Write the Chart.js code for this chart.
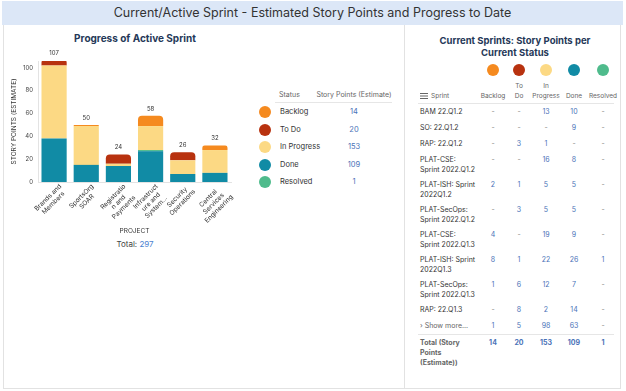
<!DOCTYPE html>
<html>
<head>
<meta charset="utf-8">
<script src="https://cdn.jsdelivr.net/npm/chart.js@4.4.1/dist/chart.umd.min.js"></script>
<style>
  body { margin: 0; width: 626px; height: 391px; background: #fff; font-family: Inter, "Noto Sans", sans-serif; color: #333; position: relative; overflow: hidden; }
  .abs { position: absolute; }
  #banner { left: 2px; top: 1px; width: 621px; height: 24px; background: #dce7f7; font-size: 12.5px; line-height: 24px; text-align: center; color: #333; }
  #leftPanel { left: 3px; top: 25px; width: 400px; height: 363px; border-left: 1px solid #e2e2e2; border-bottom: 1px solid #e2e2e2; border-right: 1px solid #e2e2e2; }
  #rightPanel { left: 404px; top: 25px; width: 216px; height: 363px; border-right: 1px solid #e2e2e2; border-bottom: 1px solid #e2e2e2; }
  .title { font-weight: 700; font-size: 9.5px; color: #253858; text-align: center; }
  .dot { border-radius: 50%; width: 12px; height: 12px; }
  .small { font-size: 7px; line-height: 10px; }
  .val { color: #4a72b8; text-align: center; }
  .dash { color: #888; }
</style>
</head>
<body>
<div id="banner" class="abs">Current/Active Sprint - Estimated Story Points and Progress to Date</div>
<div id="leftPanel" class="abs"></div>
<div id="rightPanel" class="abs"></div>
<div class="abs title" style="left:35px;top:32px;width:200px;font-size:10px;">Progress of Active Sprint</div>
<div class="abs" style="left:0px;top:50px;width:236px;height:185px;"><canvas id="chart"></canvas></div>
<div id="total" class="abs" style="left:35px;top:239px;width:200px;text-align:center;font-size:8px;color:#444;"></div>
<div class="abs title" style="left:412px;top:35px;width:206px;line-height:12px;">Current Sprints: Story Points per<br>Current Status</div>
<script>
// colours per status
var cBacklog = '#f58a1f';
var cTodo = '#b8320f';
var cProgress = '#fcd984';
var cDone = '#118ba5';
var cResolved = '#4fbb8c';

// bar chart data (per project)
var projects = [['Brands and', 'Members'], ['SportsOrg', 'SOAR'], ['Registratio', 'n and', 'Payments'],
  ['Infrastruct', 'ure and', 'System...'], ['Security', 'Operations'], ['Central', 'Services', 'Engineering']];
var done = [38, 15, 14, 27, 7, 8];
var resolved = [0, 0, 0, 1, 0, 0];
var inProgress = [64, 34, 2, 21, 12, 20];
var toDo = [5, 0, 8, 0, 7, 0];
var backlog = [0, 1, 0, 9, 0, 4];

// status summary
var statuses = ['Backlog', 'To Do', 'In Progress', 'Done', 'Resolved'];
var statusColors = [cBacklog, cTodo, cProgress, cDone, cResolved];
var statusTotals = [14, 20, 153, 109, 1];

// sprint table
var sprints = ['BAM 22.Q1.2', 'SO: 22.Q1.2', 'RAP: 22.Q1.2', 'PLAT-CSE:\nSprint 2022.Q1.2', 'PLAT-ISH: Sprint\n2022Q1.2',
  'PLAT-SecOps:\nSprint 2022.Q1.2', 'PLAT-CSE:\nSprint 2022.Q1.3', 'PLAT-ISH: Sprint\n2022Q1.3', 'PLAT-SecOps:\nSprint 2022.Q1.3',
  'RAP: 22.Q1.3', '› Show more...'];
var sBacklog = [null, null, null, null, 2, null, 4, 8, 1, null, 1];
var sTodo = [null, null, 3, null, 1, 3, null, 1, 6, 8, 5];
var sProgress = [13, null, 1, 16, 5, 5, 19, 22, 12, 2, 98];
var sDone = [10, 9, null, 8, 5, 5, 9, 26, 7, 14, 63];
var sResolved = [null, null, null, null, null, null, null, 1, null, null, null];

function el(html, style, cls) {
  var d = document.createElement('div');
  d.className = 'abs ' + (cls || '');
  d.style.cssText = style;
  d.innerHTML = html;
  document.body.appendChild(d);
  return d;
}

// total under chart
var grand = 0;
[done, resolved, inProgress, toDo, backlog].forEach(function (a) { a.forEach(function (v) { grand += v; }); });
document.getElementById('total').innerHTML = 'Total: <span style="color:#4a7fd0">' + grand + '</span>';

// middle legend table
el('Status', 'left:279px;top:90px;color:#666;', 'small');
el('Story Points (Estimate)', 'left:314px;top:90px;width:80px;text-align:center;color:#666;', 'small');
el('', 'left:275px;top:102px;width:117px;height:0;border-top:1px solid #e6e6e6;');
statuses.forEach(function (s, i) {
  var y = 112 + i * 17.5;
  el('', 'left:259px;top:' + (y - 6) + 'px;background:' + statusColors[i] + ';', 'dot');
  el(s, 'left:280px;top:' + (y - 5) + 'px;color:#333;font-size:7.5px;line-height:10px;');
  el(statusTotals[i], 'left:334px;top:' + (y - 5) + 'px;width:40px;font-size:7.5px;line-height:10px;', 'val');
});

// right table
var colX = [493, 519, 546, 574, 603];
statusColors.forEach(function (c, i) {
  el('', 'left:' + (colX[i] - 6) + 'px;top:64px;background:' + c + ';', 'dot');
});
var heads = ['Backlog', 'To<br>Do', 'In<br>Progress', 'Done', 'Resolved'];
heads.forEach(function (h, i) {
  var lines = h.indexOf('<br>') >= 0 ? 2 : 1;
  el(h, 'left:' + (colX[i] - 20) + 'px;top:' + (101 - lines * 10) + 'px;width:40px;text-align:center;color:#666;font-size:6.5px;', 'small');
});
el('', 'left:420px;top:93px;width:8px;height:1px;background:#666;box-shadow:0 2.5px 0 #666,0 5px 0 #666;');
el('Sprint', 'left:431px;top:91px;color:#666;font-size:6.5px;', 'small');
el('', 'left:418px;top:103px;width:196px;height:0;border-top:1px solid #e6e6e6;');
var y = 107;
var cols = [sBacklog, sTodo, sProgress, sDone, sResolved];
sprints.forEach(function (s, r) {
  var lines = s.split('\n').length;
  el(s.replace('\n', '<br>'), 'left:420px;top:' + y + 'px;color:' + (r === sprints.length - 1 ? '#666' : '#333') + ';', 'small');
  cols.forEach(function (col, c) {
    var v = col[r];
    el(v === null ? '-' : v, 'left:' + (colX[c] - 15) + 'px;top:' + y + 'px;width:30px;', 'small ' + (v === null ? 'val dash' : 'val'));
  });
  y += lines === 2 ? 25 : 16;
});
el('', 'left:418px;top:' + (y - 3) + 'px;width:196px;height:0;border-top:1px solid #e6e6e6;');
el('Total (Story<br>Points<br>(Estimate))', 'left:420px;top:' + (y + 1) + 'px;color:#666;font-weight:700;', 'small');
statusTotals.forEach(function (v, c) {
  el(v, 'left:' + (colX[c] - 15) + 'px;top:' + (y + 1) + 'px;width:30px;font-weight:700;', 'small val');
});

// bar chart
var series = [
  { label: 'Done', data: done, color: cDone },
  { label: 'Resolved', data: resolved, color: cResolved },
  { label: 'In Progress', data: inProgress, color: cProgress },
  { label: 'To Do', data: toDo, color: cTodo },
  { label: 'Backlog', data: backlog, color: cBacklog }
];

function isTop(ds, i) {
  for (var k = ds + 1; k < series.length; k++) {
    if (series[k].data[i] > 0) return false;
  }
  return true;
}

// totals above bars + rotated, centred multi-line category labels
var labelsPlugin = {
  id: 'labels',
  afterDatasetsDraw: function (chart) {
    var ctx = chart.ctx;
    var meta = chart.getDatasetMeta(series.length - 1);
    var xs = chart.scales.x;
    ctx.save();
    ctx.font = '6px Inter, sans-serif';
    ctx.fillStyle = '#333';
    ctx.textAlign = 'center';
    ctx.textBaseline = 'middle';
    projects.forEach(function (p, i) {
      var sum = 0;
      series.forEach(function (s) { sum += s.data[i]; });
      ctx.fillText(sum, meta.data[i].x, meta.data[i].y - 7);
    });
    ctx.font = '6.5px Inter, sans-serif';
    projects.forEach(function (lines, i) {
      var w = 0;
      lines.forEach(function (l) { w = Math.max(w, ctx.measureText(l).width); });
      ctx.save();
      ctx.translate(xs.getPixelForTick(i) + 4, xs.top + 1);
      ctx.rotate(-Math.PI / 4);
      ctx.textBaseline = 'top';
      lines.forEach(function (l, k) {
        ctx.fillText(l, -w / 2, k * 7.5);
      });
      ctx.restore();
    });
    ctx.restore();
  }
};

new Chart(document.getElementById('chart'), {
  type: 'bar',
  data: {
    labels: projects,
    datasets: series.map(function (s, d) {
      return {
        label: s.label,
        data: s.data,
        backgroundColor: s.color,
        borderWidth: 0,
        borderSkipped: false,
        borderRadius: function (c) {
          return isTop(d, c.dataIndex) ? { topLeft: 4, topRight: 4, bottomLeft: 0, bottomRight: 0 } : 0;
        },
        barPercentage: 0.9,
        categoryPercentage: 0.87
      };
    })
  },
  options: {
    responsive: true,
    maintainAspectRatio: false,
    animation: false,
    layout: { padding: { top: 11, right: 5, left: 0, bottom: 0 } },
    plugins: { legend: { display: false }, tooltip: { enabled: false } },
    scales: {
      x: {
        stacked: true,
        grid: { display: false },
        border: { color: '#e3e3e3' },
        ticks: { display: false },
        title: { display: true, text: 'PROJECT', color: '#333', font: { size: 6.5, family: 'Inter' }, padding: 0 },
        afterFit: function (s) { s.height = 53; }
      },
      y: {
        stacked: true,
        min: 0,
        max: 106,
        grid: { display: false, drawTicks: false },
        border: { color: '#e3e3e3' },
        afterBuildTicks: function (s) { s.ticks = s.ticks.filter(function (t) { return t.value % 20 === 0; }); },
        ticks: { stepSize: 20, color: '#444', font: { size: 6, family: 'Inter' }, padding: 5 },
        title: { display: true, text: 'STORY POINTS (ESTIMATE)', color: '#333', font: { size: 6.5, family: 'Inter' }, padding: { top: 10, bottom: 0 } },
        afterFit: function (s) { s.width = 38; }
      }
    }
  },
  plugins: [labelsPlugin]
});
</script>
</body>
</html>
